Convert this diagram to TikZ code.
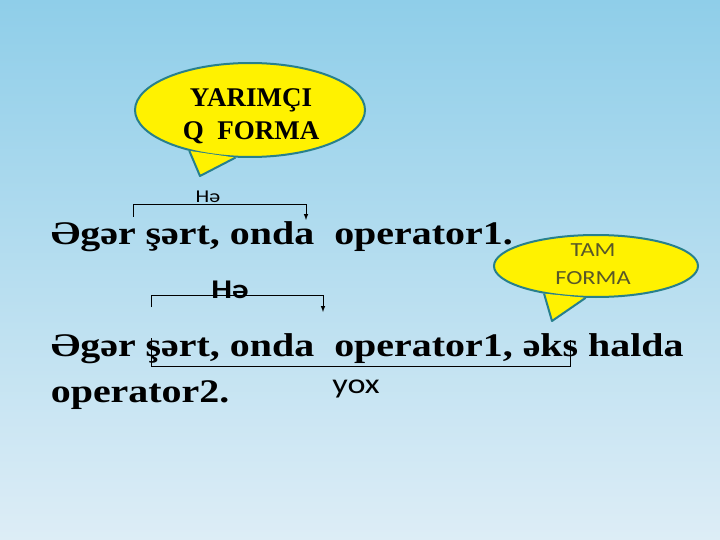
\documentclass[tikz,border=0pt]{standalone}
\usepackage{fontspec}
\setmainfont{Liberation Serif}[FakeStretch=1.21]
\newfontfamily\bubblefont{Liberation Serif}
\newfontfamily\calib{Carlito}[FakeStretch=1.22]
\usepackage{xcolor}
\usetikzlibrary{shapes.geometric,arrows}
\definecolor{skytop}{RGB}{143,206,233}
\definecolor{skybot}{RGB}{221,237,246}
\definecolor{rimteal}{RGB}{40,128,140}
\definecolor{tamtext}{RGB}{88,88,40}

\begin{document}
\begin{tikzpicture}[x=1pt,y=-1pt,
line width=1pt,
bubble/.style={ellipse,fill=yellow,draw=rimteal,line width=2pt,inner sep=0pt},
rule/.style={anchor=base west,font=\fontsize{33}{36}\selectfont\bfseries},
answer/.style={anchor=base,font=\calib\fontsize{18}{22}\selectfont}]
\useasboundingbox (0,0) rectangle (720,540);
\shade[top color=skytop,bottom color=skybot] (0,0) rectangle (720,540);

% callout over the short form
\node[bubble,minimum width=230pt,minimum height=94pt] (yq) at (250,110) {};
\coordinate (yqtip) at (200,176);
\fill[yellow] (yq.214) -- (yqtip) -- (yq.253) -- cycle;
\draw[rimteal,line width=2pt,line join=round] (yq.214) -- (yqtip) -- (yq.253);
\node[align=center,font=\bubblefont\fontsize{27}{33}\selectfont\bfseries] (yqtext) at (251,116) {YARIMÇI\\Q\ \ FORMA};

% callout over the full form
\node[bubble,minimum width=204pt,minimum height=62pt] (tf) at (596,266) {};
\coordinate (tftip) at (552,321);
\fill[yellow] (tf.208) -- (tftip) -- (tf.252) -- cycle;
\draw[rimteal,line width=2pt,line join=round] (tf.208) -- (tftip) -- (tf.252);
\node[align=center,text=tamtext,font=\calib\fontsize{20}{28}\selectfont] (tftext) at (593,264) {TAM\\FORMA};

% the two rules
\node[rule] (line1) at (47,244) {Əgər şərt, onda\ \ operator1.};
\node[rule] (line2) at (47,356) {Əgər şərt, onda\ \ operator1, əks halda};
\node[rule] (line3) at (47,402) {operator2.};

% yes / no jumps
\coordinate (h1s) at (133,217);
\coordinate (h1e) at (306,220);
\draw[-latex] (h1s) -- ++(0,-12) -| (h1e);
\node[answer] (ha1) at (208,203) {Hə};

\coordinate (h2s) at (151,307);
\coordinate (h2e) at (323,312);
\draw[-latex] (h2s) -- ++(0,-12) -| (h2e);
\node[answer,font=\calib\fontsize{27}{30}\selectfont\bfseries] (ha2) at (230,298) {Hə};

\coordinate (ys) at (151,338);
\coordinate (ye) at (570,340);
\draw (ys) -- ++(0,28) -| (ye);
\node[answer,font=\calib\fontsize{28}{32}\selectfont] (no) at (356,393) {yox};
\end{tikzpicture}
\end{document}
